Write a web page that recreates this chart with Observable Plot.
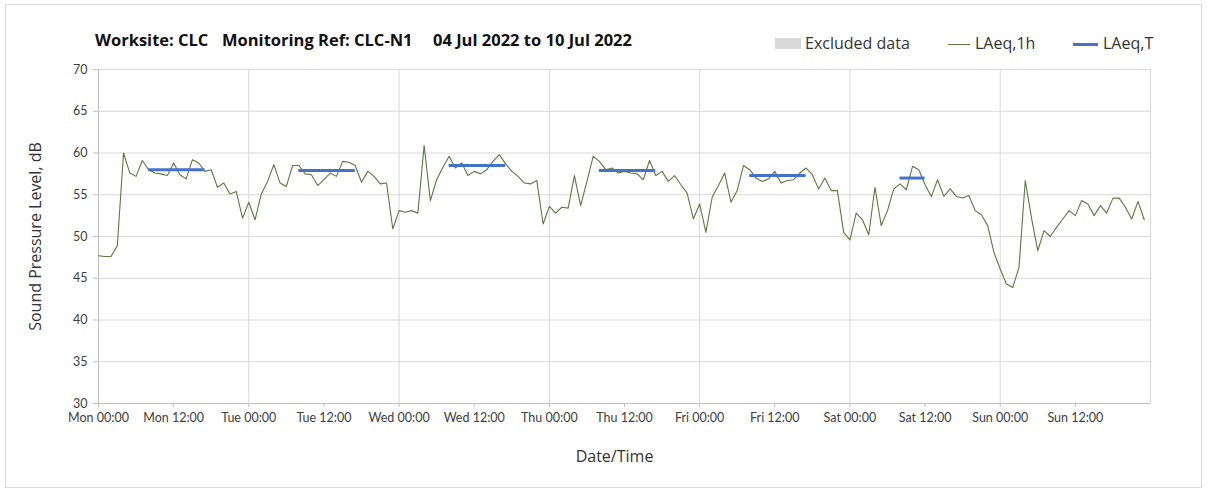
<!DOCTYPE html>
<html>
<head>
<meta charset="utf-8">
<script src="https://cdn.jsdelivr.net/npm/d3@7"></script>
<script src="https://cdn.jsdelivr.net/npm/@observablehq/plot@0.6"></script>
<style>
  html, body { margin: 0; padding: 0; background: #fff; }
  body { width: 1208px; height: 493px; position: relative; overflow: hidden; font-family: "Open Sans", Lato, sans-serif; }
  #frame { position: absolute; left: 5px; top: 4px; width: 1197px; height: 484px; border: 1px solid #d9d9d9; box-sizing: border-box; }
  .t { position: absolute; top: 28px; font-size: 16.5px; font-weight: bold; color: #111; white-space: nowrap; }
  .lg { position: absolute; top: 32px; font-size: 16px; color: #333; white-space: nowrap; }
  .sw { position: absolute; }
  #chart { position: absolute; left: 0; top: 0; }
</style>
</head>
<body>
<div id="frame"></div>
<div class="t" style="left:95px">Worksite: CLC</div>
<div class="t" style="left:222px">Monitoring Ref: CLC-N1</div>
<div class="t" style="left:433px">04 Jul 2022 to 10 Jul 2022</div>
<div class="sw" style="left:775px;top:38px;width:26px;height:11px;background:#d9d9d9"></div>
<div class="lg" style="left:805px">Excluded data</div>
<div class="sw" style="left:948px;top:44px;width:22px;height:1px;background:#5b7a3f"></div>
<div class="lg" style="left:975px">LAeq,1h</div>
<div class="sw" style="left:1073px;top:43px;width:25px;height:3px;background:#4472c4"></div>
<div class="lg" style="left:1103px">LAeq,T</div>
<div id="chart"></div>
<script>
// Hourly LAeq,1h values (dB), Mon 00:00 .. Sun 23:00
const laeq1h = [
  47.7, 47.6, 47.6, 48.9, 60.0, 57.6, 57.2, 59.1, 58.0, 57.6, 57.5, 57.3, 58.8, 57.4, 56.9, 59.2, 58.8,
  57.8, 58.0, 55.9, 56.4, 55.1, 55.4, 52.2, 54.1, 52.0, 55.1, 56.6, 58.6, 56.4, 56.0, 58.5, 58.5, 57.5,
  57.4, 56.1, 56.8, 57.6, 57.2, 59.0, 58.9, 58.5, 56.5, 57.8, 57.2, 56.3, 56.4, 50.9, 53.1, 52.9, 53.1,
  52.8, 60.9, 54.3, 56.8, 58.3, 59.6, 58.2, 58.8, 57.3, 57.8, 57.5, 58.0, 59.0, 59.8, 58.7, 57.8, 57.2,
  56.4, 56.3, 56.7, 51.5, 53.6, 52.8, 53.5, 53.4, 57.3, 53.7, 56.6, 59.6, 59.0, 58.0, 58.2, 57.6, 57.8,
  57.6, 57.5, 56.8, 59.1, 57.3, 57.8, 56.6, 57.3, 56.2, 55.2, 52.1, 53.9, 50.5, 54.7, 56.1, 57.6,
  54.1, 55.5, 58.5, 58.0, 57.0, 56.6, 56.9, 57.8, 56.4, 56.7, 56.8, 57.6, 58.2, 57.4, 55.7, 57.0, 55.5,
  55.5, 50.5, 49.6, 52.8, 52.0, 50.2, 55.9, 51.3, 53.1, 55.7, 56.3, 55.6, 58.4, 58.0, 56.2, 54.8, 56.8,
  54.8, 55.7, 54.8, 54.6, 54.9, 53.1, 52.6, 51.3, 48.1, 46.1, 44.3, 43.9, 46.3, 56.7, 52.2, 48.3,
  50.7, 50.0, 51.1, 52.1, 53.1, 52.5, 54.3, 53.9, 52.5, 53.7, 52.8, 54.6, 54.6, 53.5, 52.1, 54.2, 52.0
];
// LAeq,T periods (hour offsets from Mon 00:00) and values
const tStart = [8, 32, 56, 80, 104, 128];
const tEnd   = [17, 41, 65, 89, 113, 132];
const tValue = [58.0, 57.9, 58.5, 57.9, 57.3, 57.0];
// Axis ticks
const xTickHours = [0, 12, 24, 36, 48, 60, 72, 84, 96, 108, 120, 132, 144, 156];
const xTickLabels = ["Mon 00:00","Mon 12:00","Tue 00:00","Tue 12:00","Wed 00:00","Wed 12:00","Thu 00:00","Thu 12:00","Fri 00:00","Fri 12:00","Sat 00:00","Sat 12:00","Sun 00:00","Sun 12:00"];
const dayBoundaries = [24, 48, 72, 96, 120, 144, 168];
const yTicks = [30, 35, 40, 45, 50, 55, 60, 65, 70];
const xTitle = "Date/Time";
const yTitle = "Sound Pressure Level, dB";

const hourly = laeq1h.map((v, i) => ({hour: i, value: v}));
const periods = tStart.map((s, i) => ({start: s, end: tEnd[i], value: tValue[i]}));
const labelOf = new Map(xTickHours.map((h, i) => [h, xTickLabels[i]]));

const chart = Plot.plot({
  width: 1208,
  height: 493,
  marginTop: 69,
  marginBottom: 90,
  marginLeft: 98,
  marginRight: 58,
  style: {fontFamily: "Lato, 'Open Sans', sans-serif", fontSize: "12px", color: "#404040", background: "transparent"},
  x: {domain: [0, 168]},
  y: {domain: [30, 70]},
  marks: [
    Plot.gridY(yTicks, {stroke: "#d9d9d9", strokeOpacity: 1}),
    Plot.gridX(dayBoundaries, {stroke: "#d9d9d9", strokeOpacity: 1}),
    Plot.ruleX([0], {stroke: "#bfbfbf"}),
    Plot.ruleY([30], {stroke: "#bfbfbf"}),
    Plot.axisY(yTicks, {tickSize: 5, tickPadding: 6, stroke: "#bfbfbf", fill: "#404040", fontSize: 12.5, label: null}),
    Plot.axisX(xTickHours, {tickSize: 4, tickPadding: 6, stroke: "#bfbfbf", fill: "#404040", fontSize: 12.5,
      tickFormat: (d) => labelOf.get(d), label: null}),
    Plot.text([yTitle], {frameAnchor: "left", textAnchor: "middle", rotate: -90, dx: -63, fontSize: 16, fill: "#333",
      fontFamily: "'Open Sans', sans-serif"}),
    Plot.text([xTitle], {frameAnchor: "bottom", textAnchor: "middle", dy: 58, dx: -10, fontSize: 16, fill: "#333",
      fontFamily: "'Open Sans', sans-serif"}),
    Plot.line(hourly, {x: "hour", y: "value", stroke: "#5b7a3f", strokeWidth: 1.1}),
    Plot.ruleY(periods, {x1: "start", x2: "end", y: "value", stroke: "#4472c4", strokeWidth: 3})
  ]
});
document.getElementById("chart").appendChild(chart);
</script>
</body>
</html>
